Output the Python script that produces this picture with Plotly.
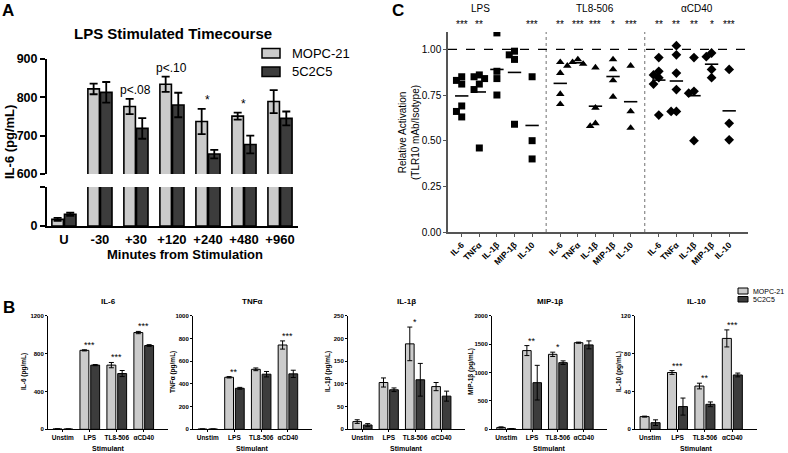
import numpy as np
import plotly.graph_objects as go

W, H = 788, 453
FONT = 'Liberation Sans, Arial, Helvetica, sans-serif'
LIGHT = '#cbcbcb'
DARK = '#3c3c3c'

# ---------------- A: IL-6 time course (pg/mL)
time_points = ['U', '-30', '+30', '+120', '+240', '+480', '+960']
tc_mopc = [17, 822, 776, 834, 737, 751, 789]
tc_mopc_err = [4, 14, 20, 20, 33, 9, 30]
tc_5c2c5 = [30, 813, 719, 780, 652, 677, 745]
tc_5c2c5_err = [4, 27, 27, 32, 11, 23, 18]
tc_sig = ['', '', 'p<.08', 'p<.10', '*', '*', '']

# ---------------- B: cytokines by stimulant (pg/mL)
stimulants = ['Unstim', 'LPS', 'TL8-506', 'αCD40']
cytokines = ['IL-6', 'TNFα', 'IL-1β', 'MIP-1β', 'IL-10']

il6_mopc = [4, 834, 678, 1022]
il6_mopc_err = [1, 6, 28, 12]
il6_5c2c5 = [3, 678, 589, 885]
il6_5c2c5_err = [1, 6, 32, 9]
il6_sig = ['', '***', '***', '***']

tnf_mopc = [2, 458, 528, 742]
tnf_mopc_err = [1, 6, 12, 36]
tnf_5c2c5 = [2, 361, 485, 488]
tnf_5c2c5_err = [1, 8, 24, 32]
tnf_sig = ['', '**', '', '***']

il1b_mopc = [17, 103, 188, 94]
il1b_mopc_err = [4, 10, 37, 9]
il1b_5c2c5 = [9.5, 87, 109, 73]
il1b_5c2c5_err = [3, 4, 36, 11]
il1b_sig = ['', '', '*', '']

mip_mopc = [33, 1386, 1320, 1525]
mip_mopc_err = [10, 88, 38, 10]
mip_5c2c5 = [9, 821, 1173, 1486]
mip_5c2c5_err = [3, 305, 32, 70]
mip_sig = ['', '**', '*', '']

il10_mopc = [13.4, 60, 45.7, 96]
il10_mopc_err = [0.5, 2, 3, 9]
il10_5c2c5 = [7, 24, 26.4, 57.4]
il10_5c2c5_err = [3, 9, 2.5, 2]
il10_sig = ['', '***', '**', '***']

b_ymax = [1200, 1000, 250, 2000, 120]
b_dtick = [400, 200, 50, 500, 40]

# ---------------- C: relative activation (TLR10 mAb / isotype)
c_groups = ['LPS', 'TL8-506', 'αCD40']
c_lps = [[0.85, 0.83, 0.81, 0.69, 0.66, 0.63],
         [0.86, 0.85, 0.84, 0.81, 0.78, 0.46],
         [1.09, 0.88, 0.84, 0.75],
         [0.99, 0.97, 0.945, 0.59],
         [0.85, 0.50, 0.40]]
c_tl8 = [[0.93, 0.87, 0.755, 0.70],
         [0.945, 0.93, 0.92, 0.91],
         [0.90, 0.68, 0.595, 0.58],
         [0.945, 0.89, 0.83, 0.74],
         [0.91, 0.66, 0.57]]
c_cd40 = [[0.955, 0.88, 0.86, 0.845, 0.81, 0.64],
          [1.02, 0.97, 0.87, 0.78, 0.66, 0.66],
          [0.955, 0.77, 0.76, 0.50],
          [0.98, 0.96, 0.89, 0.845],
          [0.89, 0.595, 0.505]]
c_lps_sig = ['***', '**', '', '', '***']
c_tl8_sig = ['**', '***', '***', '*', '***']
c_cd40_sig = ['**', '**', '**', '*', '***']


def px(x):
    return x / W


def py(y):
    return 1 - y / H


def jitter(vals, tol=0.035, step=0.3):
    # small beeswarm so overlapping points sit side by side
    placed, out = [], []
    for v in vals:
        for c in (0, -step, step, -2 * step, 2 * step):
            if all(abs(v - pv) >= tol or abs(c - pc) > 1e-9 for pv, pc in placed):
                break
        placed.append((v, c))
        out.append(c)
    return out


def note(x, y, text, size, **kw):
    d = dict(x=px(x), y=py(y), xref='paper', yref='paper', text=text, showarrow=False,
             xanchor='center', yanchor='middle', font=dict(size=size, color='black'))
    d.update(kw)
    return d


fig = go.Figure()
annotations = []
shapes = []


def bar_pair(xa, ya, cats, v1, e1, v2, e2, bw, bg, lw, ew, eth):
    for vals, errs, col, off in ((v1, e1, LIGHT, -bw - bg / 2), (v2, e2, DARK, bg / 2)):
        fig.add_trace(go.Bar(
            x=cats, y=vals, xaxis=xa, yaxis=ya, width=bw, offset=off,
            marker=dict(color=col, line=dict(color='black', width=lw)),
            error_y=dict(type='data', array=errs, color='black', thickness=eth, width=ew),
            showlegend=False, hoverinfo='skip'))


def sig_notes(xa, ya, sig, v1, e1, v2, e2, size, yshift):
    # category index keeps '+30' style labels from being read as numbers
    for i, s in enumerate(sig):
        if s:
            annotations.append(dict(x=i, y=max(v1[i] + e1[i], v2[i] + e2[i]), xref=xa, yref=ya,
                                    text=s, xanchor='center', yanchor='bottom', showarrow=False,
                                    yshift=yshift, font=dict(size=size, color='black')))


# ---- panel A: broken axis = same bars on two stacked y axes
bar_pair('x', 'y', time_points, tc_mopc, tc_mopc_err, tc_5c2c5, tc_5c2c5_err, 0.32, 0.03, 1.6, 4, 1.8)
bar_pair('x', 'y2', time_points, tc_mopc, tc_mopc_err, tc_5c2c5, tc_5c2c5_err, 0.32, 0.03, 1.6, 4, 1.8)
sig_notes('x', 'y', tc_sig, tc_mopc, tc_mopc_err, tc_5c2c5, tc_5c2c5_err, 12, 0)

# ---- panel B
b_mopc = [il6_mopc, tnf_mopc, il1b_mopc, mip_mopc, il10_mopc]
b_mopc_err = [il6_mopc_err, tnf_mopc_err, il1b_mopc_err, mip_mopc_err, il10_mopc_err]
b_5c2c5 = [il6_5c2c5, tnf_5c2c5, il1b_5c2c5, mip_5c2c5, il10_5c2c5]
b_5c2c5_err = [il6_5c2c5_err, tnf_5c2c5_err, il1b_5c2c5_err, mip_5c2c5_err, il10_5c2c5_err]
b_sig = [il6_sig, tnf_sig, il1b_sig, mip_sig, il10_sig]
b_xspan = [(48, 168), (193, 312), (348, 465), (492, 607), (635, 757)]
b_ytitle_x = [24, 173, 328, 471, 619]

for k in range(5):
    xa, ya = f'x{k + 3}', f'y{k + 4}'
    bar_pair(xa, ya, stimulants, b_mopc[k], b_mopc_err[k], b_5c2c5[k], b_5c2c5_err[k],
             0.33, 0.07, 1, 2.5, 1)
    sig_notes(xa, ya, b_sig[k], b_mopc[k], b_mopc_err[k], b_5c2c5[k], b_5c2c5_err[k], 9, -2)
    x0, x1 = b_xspan[k]
    annotations.append(note((x0 + x1) / 2, 301, f'<b>{cytokines[k]}</b>', 8))
    annotations.append(note((x0 + x1) / 2, 448, '<b>Stimulant</b>', 7))
    annotations.append(note(b_ytitle_x[k], 372, f'<b>{cytokines[k]} (pg/mL)</b>', 6.5, textangle=-90))

# ---- panel C
c_data = [c_lps, c_tl8, c_cd40]
c_sig = [c_lps_sig, c_tl8_sig, c_cd40_sig]
c_symbols = ['square', 'triangle-up', 'diamond']
c_sizes = [7, 7.5, 7.5]
group_step = len(cytokines) + 0.6
tick_pos, tick_txt = [], []
for g, grp in enumerate(c_data):
    xs, ys, lx, ly = [], [], [], []
    for i, vals in enumerate(grp):
        pos = g * group_step + i
        tick_pos.append(pos)
        tick_txt.append(f'<b>{cytokines[i]}</b>')
        xs += [pos + j for j in jitter(vals)]
        ys += vals
        mu = float(np.mean(vals))
        lx += [pos - 0.38, pos + 0.38, None]
        ly += [mu, mu, None]
        if c_sig[g][i]:
            annotations.append(dict(x=pos, y=py(25), xref='x2', yref='paper', text=c_sig[g][i],
                                    xanchor='center', yanchor='middle', showarrow=False,
                                    font=dict(size=10, color='black')))
    fig.add_trace(go.Scatter(x=xs, y=ys, xaxis='x2', yaxis='y3', mode='markers',
                             marker=dict(symbol=c_symbols[g], size=c_sizes[g], color='black'),
                             showlegend=False, hoverinfo='skip'))
    fig.add_trace(go.Scatter(x=lx, y=ly, xaxis='x2', yaxis='y3', mode='lines',
                             line=dict(color='black', width=1.6),
                             showlegend=False, hoverinfo='skip'))
    if g:
        xdiv = g * group_step - 0.8
        shapes.append(dict(type='line', xref='x2', yref='y3', x0=xdiv, x1=xdiv, y0=0, y1=1.095,
                           line=dict(color='#888', width=1.2, dash='dot')))

shapes.append(dict(type='line', xref='x2 domain', yref='y3', x0=0, x1=1, y0=1, y1=1,
                   line=dict(color='black', width=1.3, dash='dash')))
for name, xp in zip(c_groups, [480, 595, 697]):
    annotations.append(note(xp, 9, name, 10))
annotations.append(note(409, 133, 'Relative Activation<br>(TLR10 mAb/Isotype)', 10, textangle=-90))

# ---- panel A texts and legend
annotations += [
    note(173, 33, '<b>LPS Stimulated Timecourse</b>', 15),
    note(9, 142, '<b>IL-6 (pg/mL)</b>', 13, textangle=-90),
    note(185, 254, '<b>Minutes from Stimulation</b>', 13),
    note(8, 10, '<b>A</b>', 17),
    note(9, 307, '<b>B</b>', 17),
    note(398, 10, '<b>C</b>', 17),
]
for (y0, y1), col, name in zip([(48.5, 58), (67, 76.5)], [LIGHT, DARK], ['MOPC-21', '5C2C5']):
    shapes.append(dict(type='rect', xref='paper', yref='paper', x0=px(262), x1=px(280),
                       y0=py(y1), y1=py(y0), fillcolor=col, line=dict(color='black', width=1.5)))
    annotations.append(note(290, (y0 + y1) / 2, name, 13, xanchor='left'))
for (y0, y1), col, name in zip([(288, 294), (296.5, 302)], [LIGHT, DARK], ['MOPC-21', '5C2C5']):
    shapes.append(dict(type='rect', xref='paper', yref='paper', x0=px(738), x1=px(748),
                       y0=py(y1), y1=py(y0), fillcolor=col, line=dict(color='black', width=1)))
    annotations.append(note(751, (y0 + y1) / 2, name, 7, xanchor='left'))

base = dict(showgrid=False, zeroline=False, showline=True, linecolor='black', ticks='outside',
            tickcolor='black', automargin=False)
layout_axes = dict(
    xaxis=dict(base, type='category', domain=[px(47), px(298)], anchor='y2', range=[-0.47, 6.5],
               ticks='', linewidth=2, tickfont=dict(size=13, weight='bold')),
    yaxis=dict(base, domain=[py(174), py(59)], anchor='x', range=[600, 900], tickvals=[600, 700, 800, 900],
               linewidth=2, tickwidth=2, ticklen=5, tickfont=dict(size=12.5, weight='bold')),
    yaxis2=dict(base, domain=[py(226), py(187)], anchor='x', range=[0, 100], tickvals=[0, 100],
                ticktext=['0', ''], linewidth=2, tickwidth=2, ticklen=5,
                tickfont=dict(size=12.5, weight='bold')),
    xaxis2=dict(base, domain=[px(448), px(748)], anchor='y3', range=[-0.78, 16.27],
                tickvals=tick_pos, ticktext=tick_txt, tickangle=-45, ticklen=3,
                linecolor='#555', tickcolor='#555', linewidth=1.5, tickfont=dict(size=8.5)),
    yaxis3=dict(base, domain=[py(232), py(32)], anchor='x2', range=[0, 1.095], tick0=0, dtick=0.25,
                tickformat='.2f', ticklen=3, linecolor='#555', tickcolor='#555', linewidth=1.5,
                tickfont=dict(size=10)),
)
for k in range(5):
    x0, x1 = b_xspan[k]
    layout_axes[f'xaxis{k + 3}'] = dict(base, type='category', domain=[px(x0), px(x1)],
                                        anchor=f'y{k + 4}', range=[-0.55, 3.9], ticklen=2,
                                        tickfont=dict(size=6.5, weight='bold'))
    layout_axes[f'yaxis{k + 4}'] = dict(base, domain=[py(429.3), py(315.7)], anchor=f'x{k + 3}',
                                        range=[0, b_ymax[k]], tick0=0, dtick=b_dtick[k], ticklen=2,
                                        tickfont=dict(size=6, weight='bold'))

fig.update_layout(
    width=W, height=H, margin=dict(l=0, r=0, t=0, b=0, pad=0, autoexpand=False),
    paper_bgcolor='white', plot_bgcolor='white',
    font=dict(family=FONT, color='black'),
    barmode='overlay', showlegend=False,
    annotations=annotations, shapes=shapes,
    **layout_axes)

# the page body has a default 8px margin; drop it so the figure sits at the window's corner
fig.write_html('out.html', config={'displayModeBar': False},
               post_script="document.body.style.margin='0';")
